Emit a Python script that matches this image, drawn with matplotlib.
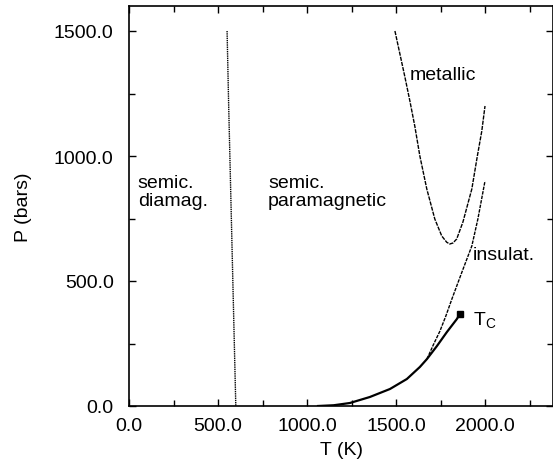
import matplotlib
matplotlib.use("Agg")
import matplotlib.pyplot as plt
from matplotlib.ticker import MultipleLocator, FormatStrFormatter

plt.rcParams['font.family'] = ['Liberation Sans', 'DejaVu Sans']

# Data
diamag_T = [551, 560, 570, 580, 590, 600]
diamag_P = [1500, 1200, 900, 600, 300, 0]

metal_T = [1494, 1522, 1550, 1578, 1606, 1634, 1673, 1718, 1757, 1785, 1802,
           1820, 1841, 1876, 1926, 1957, 1982, 2000]
metal_P = [1500, 1408, 1316, 1220, 1118, 1000, 868, 748, 680, 655, 648,
           652, 668, 736, 868, 1000, 1100, 1200]

insul_T = [1674, 1710, 1747, 1780, 1814, 1870, 1926, 1960, 2000]
insul_P = [188, 245, 300, 360, 428, 535, 640, 748, 900]

coex_T = [1062, 1150, 1241, 1353, 1466, 1561, 1634, 1674, 1730, 1786, 1842, 1859]
coex_P = [0, 3, 12, 36, 68, 108, 156, 188, 240, 296, 348, 368]

tc_T, tc_P = 1859, 368

fig = plt.figure(figsize=(5.53, 4.64), dpi=100)
ax = fig.add_axes([129/553, 57/464, 1 - 129/553, 1 - 57/464 - 7/464])

ax.plot(diamag_T, diamag_P, color='black', lw=1.0, ls=(0, (1, 0.6)))
ax.plot(metal_T, metal_P, color='black', lw=1.0, ls=(0, (3, 0.8)))
ax.plot(insul_T, insul_P, color='black', lw=1.0, ls=(0, (2.5, 0.8)))
ax.plot(coex_T, coex_P, color='black', lw=1.6, ls='-', solid_joinstyle='round')
ax.plot([tc_T], [tc_P], marker='s', color='black', ms=5)

ax.set_xlim(0, 2382)
ax.set_ylim(0, 1600)

ax.xaxis.set_major_locator(MultipleLocator(500))
ax.xaxis.set_minor_locator(MultipleLocator(250))
ax.yaxis.set_major_locator(MultipleLocator(500))
ax.yaxis.set_minor_locator(MultipleLocator(250))
ax.xaxis.set_major_formatter(FormatStrFormatter('%.1f'))
ax.yaxis.set_major_formatter(FormatStrFormatter('%.1f'))
ax.tick_params(which='both', direction='in', top=True, right=True, width=1.0, labelsize=14)
ax.tick_params(which='major', length=5)
ax.tick_params(which='minor', length=4)
ax.tick_params(axis='x', pad=8)
ax.tick_params(axis='y', pad=11)
for s in ax.spines.values():
    s.set_linewidth(1.2)

ax.set_xlabel('T (K)', fontsize=14, labelpad=5)
ax.set_ylabel('P (bars)', fontsize=14, labelpad=16)

fs = 14
ax.text(50, 858, 'semic.\ndiamag.', fontsize=fs, va='center', ha='left', linespacing=1.0)
ax.text(781, 858, 'semic.\nparamagnetic', fontsize=fs, va='center', ha='left', linespacing=1.0)
ax.text(1579, 1324, 'metallic', fontsize=fs, va='center', ha='left')
ax.text(1933, 608, 'insulat.', fontsize=fs, va='center', ha='left')
ax.text(1933, 345, r'T$_\mathregular{C}$', fontsize=fs, va='center', ha='left')

fig.savefig('out.png', dpi=100)
